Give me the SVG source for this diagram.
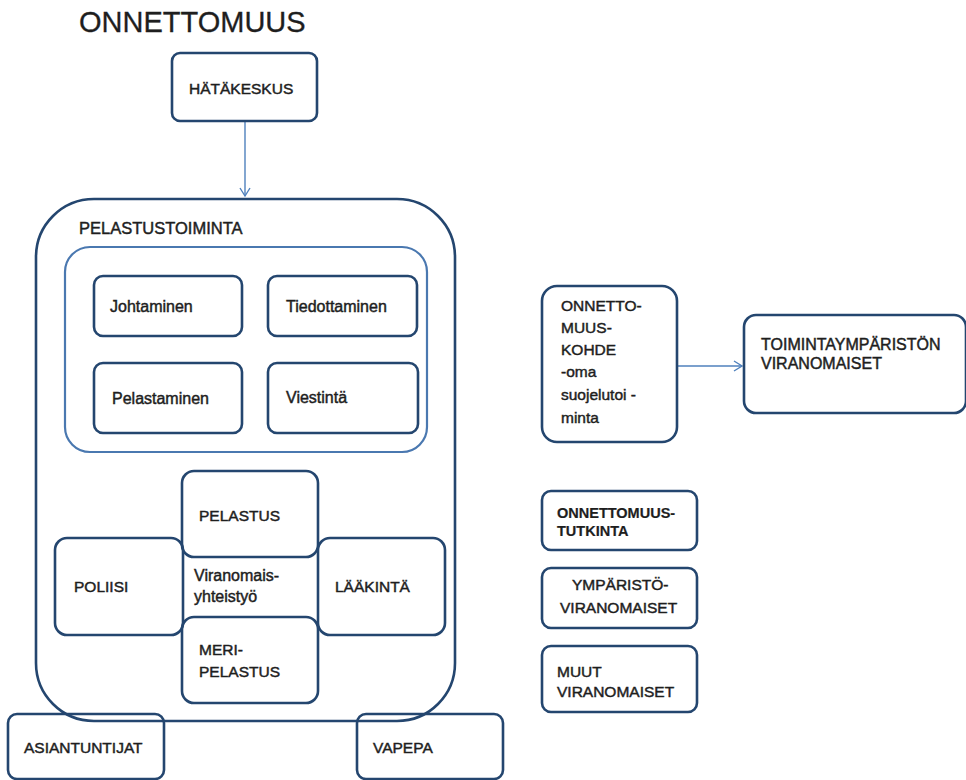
<svg xmlns="http://www.w3.org/2000/svg" width="966" height="780" viewBox="0 0 966 780">
<defs>
<style>
.box{fill:none;stroke:#24466f;stroke-width:2.6}
.inner{fill:none;stroke:#4a78b0;stroke-width:2.2}
.con{fill:none;stroke:#4f81bd;stroke-width:1.4}
text{font-family:"Liberation Sans",Arial,sans-serif;fill:#1e1e1e;stroke:#1e1e1e;stroke-width:0.45}
.l{font-size:15.5px}
.m{font-size:16px}
.b{font-size:14.5px;font-weight:bold;stroke-width:0.2}
.t{font-size:29px;stroke-width:0.3}
</style>
<marker id="arr" markerWidth="12" markerHeight="12" refX="10" refY="6" orient="auto" markerUnits="userSpaceOnUse">
<path d="M2,1 L10,6 L2,11" fill="none" stroke="#4f81bd" stroke-width="1.4"/>
</marker>
</defs>
<rect width="966" height="780" fill="#fff"/>
<text class="t" x="79" y="32">ONNETTOMUUS</text>

<g id="connectors">
<line class="con" x1="245" y1="121" x2="245" y2="196" marker-end="url(#arr)"/>
<line class="con" x1="677" y1="366" x2="742" y2="366" marker-end="url(#arr)"/>
</g>

<g id="hatakeskus">
<rect class="box" x="172" y="53" width="145" height="68" rx="8"/>
<text class="l" x="189" y="94">HÄTÄKESKUS</text>
</g>

<g id="pelastustoiminta">
<rect class="box" x="36" y="199" width="419" height="522" rx="58"/>
<text x="79" y="234" style="font-size:16.5px">PELASTUSTOIMINTA</text>
</g>

<g id="tehtavat">
<rect class="inner" x="65" y="247" width="362" height="205" rx="25"/>
</g>

<g id="johtaminen">
<rect class="box" x="94" y="276" width="148" height="60" rx="9"/>
<text class="m" x="110" y="312">Johtaminen</text>
</g>
<g id="tiedottaminen">
<rect class="box" x="268" y="276" width="149" height="60" rx="9"/>
<text class="m" x="286" y="312">Tiedottaminen</text>
</g>
<g id="pelastaminen">
<rect class="box" x="94" y="363" width="148" height="70" rx="9"/>
<text class="m" x="112" y="404">Pelastaminen</text>
</g>
<g id="viestinta">
<rect class="box" x="268" y="363" width="150" height="70" rx="9"/>
<text class="m" x="286" y="403">Viestintä</text>
</g>

<g id="pelastus">
<rect class="box" x="182" y="471" width="136" height="86" rx="12"/>
<text class="l" x="199" y="521">PELASTUS</text>
</g>
<g id="poliisi">
<rect class="box" x="55" y="538" width="128" height="97" rx="12"/>
<text class="l" x="74" y="592">POLIISI</text>
</g>
<g id="laakinta">
<rect class="box" x="318" y="538" width="127" height="97" rx="12"/>
<text class="l" x="335" y="592">LÄÄKINTÄ</text>
</g>
<g id="meripelastus">
<rect class="box" x="182" y="617" width="136" height="86" rx="12"/>
<text class="l" x="199" y="655">MERI-</text>
<text class="l" x="199" y="677">PELASTUS</text>
</g>
<g id="viranomaisyhteistyo">
<text class="m" x="194" y="581">Viranomais-</text>
<text class="m" x="194" y="602">yhteistyö</text>
</g>

<g id="asiantuntijat">
<rect class="box" x="8" y="714" width="156" height="65" rx="9"/>
<text class="l" x="24" y="753">ASIANTUNTIJAT</text>
</g>
<g id="vapepa">
<rect class="box" x="357" y="714" width="146" height="65" rx="9"/>
<text class="l" x="373" y="753">VAPEPA</text>
</g>

<g id="onnettomuuskohde">
<rect class="box" x="542" y="286" width="135" height="156" rx="15"/>
<text class="l" x="561" y="311">ONNETTO-</text>
<text class="l" x="561" y="333">MUUS-</text>
<text class="l" x="561" y="355">KOHDE</text>
<text class="l" x="561" y="377">-oma</text>
<text class="l" x="561" y="400">suojelutoi -</text>
<text class="l" x="561" y="423">minta</text>
</g>

<g id="toimintaymparisto">
<rect class="box" x="744" y="315" width="222" height="98" rx="12"/>
<text class="m" x="761" y="350">TOIMINTAYMPÄRISTÖN</text>
<text class="m" x="761" y="369">VIRANOMAISET</text>
</g>

<g id="onnettomuustutkinta">
<rect class="box" x="542" y="491" width="155" height="59" rx="9"/>
<text class="b" x="557" y="518">ONNETTOMUUS-</text>
<text class="b" x="557" y="536">TUTKINTA</text>
</g>
<g id="ymparistoviranomaiset">
<rect class="box" x="542" y="568" width="155" height="60" rx="9"/>
<text class="l" x="572" y="590">YMPÄRISTÖ-</text>
<text class="l" x="560" y="613">VIRANOMAISET</text>
</g>
<g id="muutviranomaiset">
<rect class="box" x="542" y="646" width="155" height="66" rx="9"/>
<text class="l" x="557" y="677">MUUT</text>
<text class="l" x="557" y="697">VIRANOMAISET</text>
</g>
</svg>
